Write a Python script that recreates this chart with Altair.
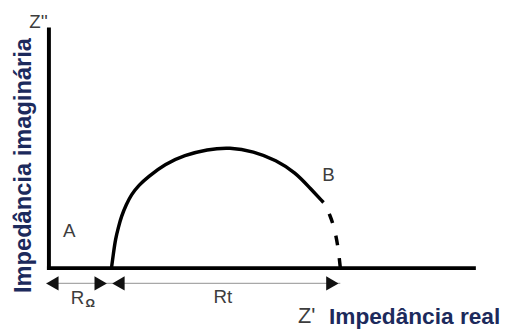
import altair as alt
import pandas as pd

# Nyquist semicircle, Z' (x) and Z'' (y) (drawing units)
arc_x = [64, 66, 68, 71, 74, 79, 84, 92, 101, 118, 138, 161, 184, 208, 231, 251, 264, 279]
arc_y = [0, 15, 29, 41, 52, 64, 74, 84, 92, 105, 114, 120, 122, 118, 109, 96, 82, 66]
# dashed extrapolated tail from B down to the real axis
tail_x = [279, 286, 291, 294, 296]
tail_y = [66, 53, 36, 19, 0]

# dimension line (R_Omega and Rt) under the real axis
dim_x = [-2]
dim_x2 = [296]
dim_y = [-16]
arrow_x = [4, 53, 71, 288]
arrow_dir = ["left", "right", "left", "right"]

# annotation letters
letter_text = ["A", "B", "R", "Rt", "Z''"]
letter_x = [21, 284, 29.5, 177, -10]
letter_y = [37, 93.5, -31, -29.5, 249]
sub_text = ["Ω"]
sub_x = [42.5]
sub_y = [-36]
zreal_text = ["Z'"]
zreal_x = [262]
zreal_y = [-49]

FONT = "Liberation Sans"
NAVY = "#1c2a5c"
GRAY = "#3d3d3d"

arc = pd.DataFrame({"x": arc_x, "y": arc_y})
tail = pd.DataFrame({"x": tail_x, "y": tail_y})
dim = pd.DataFrame({"x": dim_x, "x2": dim_x2, "y": dim_y})
arrows = pd.DataFrame({"x": arrow_x, "y": dim_y * len(arrow_x), "d": arrow_dir})
letters = pd.DataFrame({"x": letter_x, "y": letter_y, "t": letter_text})
subs = pd.DataFrame({"x": sub_x, "y": sub_y, "t": sub_text})
zreal = pd.DataFrame({"x": zreal_x, "y": zreal_y, "t": zreal_text})

xs = alt.Scale(domain=[0, 431], nice=False, zero=False)
ys = alt.Scale(domain=[0, 242], nice=False, zero=False)

x_axis = alt.Axis(
    domain=True, domainWidth=4, domainColor="#000", domainCap="square",
    ticks=False, labels=False, grid=False,
    title="Impedância real", titleFont=FONT, titleFontSize=23,
    titleFontWeight="bold", titleColor=NAVY,
    titleX=284, titleY=57, titleAlign="left", titleBaseline="alphabetic",
    titleAnchor="start",
)
y_axis = alt.Axis(
    domain=True, domainWidth=4, domainColor="#000", domainCap="square",
    ticks=False, labels=False, grid=False,
    title="Impedância imaginária", titleFont=FONT, titleFontSize=24,
    titleFontWeight="bold", titleColor=NAVY, titleAngle=270,
    titleX=-18, titleY=138, titleAlign="center", titleBaseline="alphabetic",
)

X = alt.X("x:Q", scale=xs, axis=x_axis)
Y = alt.Y("y:Q", scale=ys, axis=y_axis)

curve = alt.Chart(arc).mark_line(
    color="#000", strokeWidth=3.5, interpolate="basis"
).encode(x=X, y=Y, order="x:Q")

dashed = alt.Chart(tail).mark_line(
    color="#000", strokeWidth=3.5, interpolate="basis",
    strokeDash=[10, 13], strokeDashOffset=10,
).encode(x=X, y=Y, order="x:Q")

dim_line = alt.Chart(dim).mark_rule(color="#a8a8a8", strokeWidth=1.2).encode(
    x=X, x2="x2:Q", y=Y,
)

heads = alt.Chart(arrows).mark_point(
    filled=True, color="#111", size=210, opacity=1
).encode(
    x=X, y=Y,
    shape=alt.Shape("d:N", scale=alt.Scale(domain=["left", "right"],
                                           range=["triangle-left", "triangle-right"]),
                    legend=None),
)

letter_layer = alt.Chart(letters).mark_text(
    font=FONT, fontSize=19, color=GRAY, align="center", baseline="middle"
).encode(x=X, y=Y, text="t:N")

sub_layer = alt.Chart(subs).mark_text(
    font=FONT, fontSize=12, fontWeight="bold", color=GRAY,
    align="center", baseline="middle"
).encode(x=X, y=Y, text="t:N")

zreal_layer = alt.Chart(zreal).mark_text(
    font=FONT, fontSize=22, color=GRAY, align="center", baseline="middle"
).encode(x=X, y=Y, text="t:N")

chart = alt.layer(
    curve, dashed, dim_line, heads, letter_layer, sub_layer, zreal_layer
).properties(
    width=431, height=242,
    autosize=alt.AutoSizeParams(type="none"),
    padding={"left": 41, "top": 19, "right": 28, "bottom": 62},
    background="white",
).configure_view(stroke=None)

chart.save("out.html", embed_options={"renderer": "svg", "actions": False})
